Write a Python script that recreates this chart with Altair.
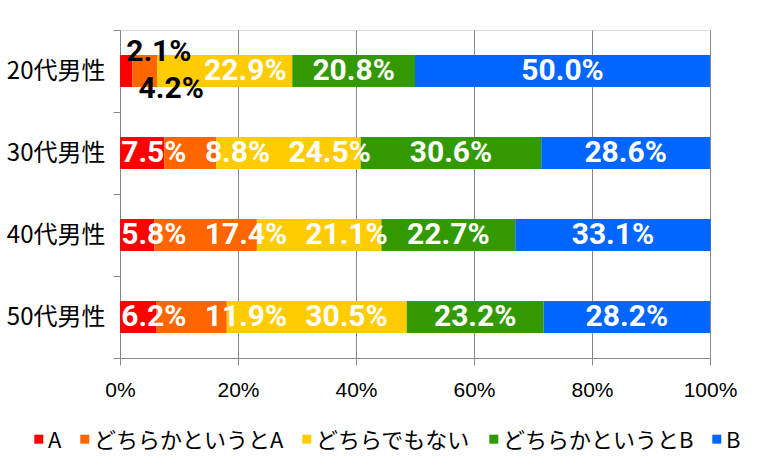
import altair as alt
import pandas as pd

ages = ["20代男性", "30代男性", "40代男性", "50代男性"]
segments = ["A", "どちらかというとA", "どちらでもない", "どちらかというとB", "B"]
colors = ["#FF0000", "#FF6600", "#FFCC00", "#339900", "#0066FF"]
v20 = [2.1, 4.2, 22.9, 20.8, 50.0]
v30 = [7.5, 8.8, 24.5, 30.6, 28.6]
v40 = [5.8, 17.4, 21.1, 22.7, 33.1]
v50 = [6.2, 11.9, 30.5, 23.2, 28.2]

W, H = 590, 328
PX = W / 100.0
LAB_SIZE = 30
SMALL = 5  # segments below this share get an outside (black) label

axis_font = "Liberation Sans"
jp_font = "Noto Sans CJK JP"
lab_font = "Roboto"


def text_w(s):
    # approximate advance widths of Roboto Bold
    w = 0.0
    for ch in s:
        w += {".": 0.27, "%": 0.73}.get(ch, 0.5615)
    return w * LAB_SIZE


rows = []
for age, vals in zip(ages, [v20, v30, v40, v50]):
    x0 = 0.0
    prev_right, prev_line = None, None
    for i, (seg, v) in enumerate(zip(segments, vals)):
        label = f"{v:.1f}%"
        w = text_w(label)
        small = v < SMALL
        if small:
            left = x0 * PX + 7
            line = "up" if i % 2 == 0 else "down"
        else:
            left = (x0 + v / 2) * PX - w / 2
            line = "mid"
            lo = 2.0
            if prev_right is not None:
                lo = prev_right + (20 if prev_line == line else 2)
            left = max(left, lo)
        prev_right, prev_line = left + w, line
        rows.append({"age": age, "seg": seg, "order": i, "value": v,
                     "label": label, "line": line,
                     "lx": (left + w / 2) / PX, "x0": x0, "x1": x0 + v})
        x0 += v
df = pd.DataFrame(rows)

yenc = alt.Y("age:N", sort=ages, title=None,
             scale=alt.Scale(domain=ages, paddingInner=0, paddingOuter=0),
             axis=alt.Axis(tickBand="extent", tickSize=7, tickColor="#888888",
                           domainColor="#888888", labelFont=jp_font, labelFontSize=24,
                           labelColor="#000000", labelPadding=8, grid=False))
xscale = alt.Scale(domain=[0, 100], nice=False)

base = alt.Chart(df)

legend_shape = "M-0.6,-1.4H1.4V0.6H-0.6Z"

bars = base.mark_bar(size=32).encode(
    x=alt.X("x0:Q", scale=xscale, title=None,
            axis=alt.Axis(values=[0, 20, 40, 60, 80, 100], labelExpr="datum.value + '%'",
                          grid=True, gridColor="#888888", tickSize=7, tickColor="#888888",
                          domainColor="#888888", labelFont=axis_font, labelFontSize=21,
                          labelColor="#000000", labelPadding=14, labelFlush=False)),
    x2="x1:Q",
    y=yenc,
    color=alt.Color("seg:N", sort=segments,
                    scale=alt.Scale(domain=segments, range=colors),
                    legend=alt.Legend(title=None, orient="none", direction="horizontal",
                                      legendX=-94, legendY=400,
                                      symbolType=legend_shape, symbolSize=81,
                                      labelFont=jp_font, labelFontSize=22, labelLimit=400,
                                      labelColor="#000000", columnPadding=10, labelOffset=0,
                                      symbolStrokeWidth=0, padding=0)),
)

big = base.transform_filter("datum.line == 'mid'").mark_text(
    font=lab_font, fontWeight="bold", fontSize=LAB_SIZE, color="white", baseline="middle"
).encode(
    x=alt.X("lx:Q", scale=xscale),
    y=alt.Y("age:N", sort=ages),
    text="label:N",
)

up = base.transform_filter("datum.line == 'up'").mark_text(
    font=lab_font, fontWeight="bold", fontSize=LAB_SIZE, color="black", baseline="middle",
    dy=-19
).encode(
    x=alt.X("lx:Q", scale=xscale),
    y=alt.Y("age:N", sort=ages),
    text="label:N",
)

down = base.transform_filter("datum.line == 'down'").mark_text(
    font=lab_font, fontWeight="bold", fontSize=LAB_SIZE, color="black", baseline="middle",
    dy=18
).encode(
    x=alt.X("lx:Q", scale=xscale),
    y=alt.Y("age:N", sort=ages),
    text="label:N",
)

chart = alt.layer(bars, big, up, down).properties(
    width=W, height=H,
    autosize=alt.AutoSizeParams(type="none"),
    padding={"left": 120, "top": 30, "right": 56, "bottom": 110},
).configure_view(stroke=None).configure(background="white")

chart.save("out.html", embed_options={"renderer": "svg", "actions": False})
